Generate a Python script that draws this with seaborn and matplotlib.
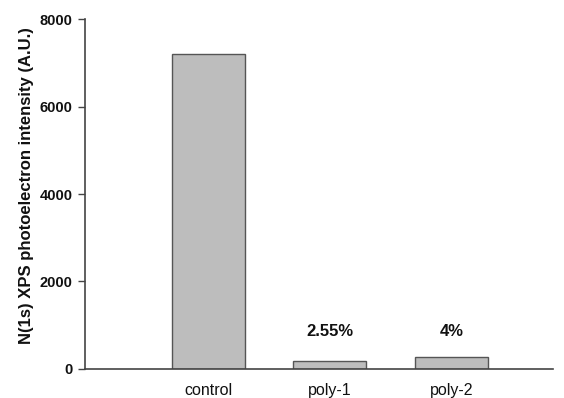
import matplotlib
matplotlib.use('Agg')
import matplotlib.pyplot as plt
import seaborn as sns
import pandas as pd

# values
samples = ['control', 'poly-1', 'poly-2']
intensity = [7200, 175, 275]
pct_labels = ['', '2.55%', '4%']
label_height = 845

sns.set_theme(style='ticks')
plt.rcParams['font.family'] = ['Liberation Sans', 'DejaVu Sans']

df = pd.DataFrame({'sample': samples, 'intensity': intensity})

fig = plt.figure(figsize=(5.64, 3.98), dpi=100)
ax = fig.add_axes([0.151, 0.073, 0.829, 0.879])

sns.barplot(data=df, x='sample', y='intensity', color='#bdbdbd', saturation=1,
            width=0.6, edgecolor='#555555', linewidth=1.0, ax=ax)

for i, txt in enumerate(pct_labels):
    if txt:
        ax.text(i, label_height, txt, ha='center', va='center',
                fontsize=12, fontweight='bold', color='#111111')

ax.set_xlim(-1.01, 2.83)
ax.set_ylim(0, 8000)
ax.set_yticks([0, 2000, 4000, 6000, 8000])
ax.set_xlabel('')
ax.set_ylabel('N(1s) XPS photoelectron intensity (A.U.)', fontsize=12,
              fontweight='bold', color='#111111')
ax.yaxis.set_label_coords(-0.11, 0.525)

ax.tick_params(axis='y', length=5, width=1.0, color='#444444', labelsize=10.5,
               pad=4, labelcolor='#111111')
ax.tick_params(axis='x', length=0, labelsize=11.5, pad=10, labelcolor='#111111')
for lab in ax.get_yticklabels():
    lab.set_fontweight('bold')

sns.despine(ax=ax)
for side in ['left', 'bottom']:
    ax.spines[side].set_color('#444444')
    ax.spines[side].set_linewidth(1.2)

fig.savefig('out.png', dpi=100)
